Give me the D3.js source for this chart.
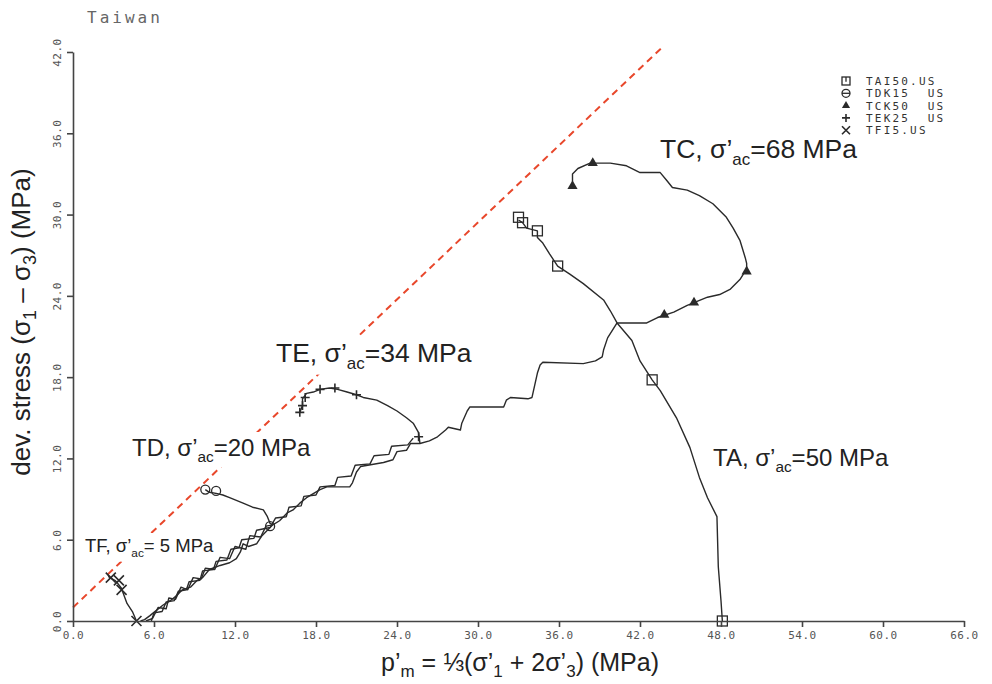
<!DOCTYPE html>
<html><head><meta charset="utf-8">
<script src="https://cdn.jsdelivr.net/npm/d3@7"></script>
<style>body{margin:0;background:#fff;} svg{display:block;}</style>
</head><body>
<svg id="chart" width="992" height="684"></svg>
<script>
// ---------- data ----------
const xTicks = [0, 6, 12, 18, 24, 30, 36, 42, 48, 54, 60, 66];
const yTicks = [0, 6, 12, 18, 24, 30, 36, 42];
const legendNames = ["TAI50.US", "TDK15  US", "TCK50  US", "TEK25  US", "TFI5.US"];
const legendSymbols = ["squareBar", "circleBar", "triangle", "plus", "cross"];
const titleText = "Taiwan";

// failure / reference line (p, q)
const refLine = [[0, 1.0], [43.7, 42.4]];

// common loading path (staircase)
const trunkMain = [[5.0,0.0],[5.3,0.1],[5.7,0.4],[6.2,0.8],[6.7,1.2],[7.2,1.5],[7.7,1.9],[8.1,2.3],[8.7,2.5],[9.2,3.0],[9.6,3.2],[10.1,3.8],[10.9,4.1],[11.6,4.3],[12.1,4.6],[12.4,5.1],[12.6,5.7],[13.0,5.5],[13.6,5.7],[14.0,6.3],[14.4,6.7],[14.8,7.1],[15.3,7.4],[15.9,8.0],[16.3,8.2],[16.8,8.7],[17.3,9.1],[18.3,9.7],[18.8,9.9],[20.5,9.9],[20.7,10.2],[21.0,11.0],[21.3,11.4],[23.0,11.7],[23.7,11.9],[24.0,12.5],[24.7,12.6],[25.0,13.1],[25.7,13.1],[26.4,13.3],[27.0,13.6],[27.6,14.1],[27.8,14.3],[28.7,14.1],[28.8,14.6],[29.2,15.5],[29.4,15.8],[31.9,15.8],[32.1,16.3],[32.4,16.5],[33.7,16.4],[34.0,16.5],[34.4,18.3],[34.6,18.9],[34.8,19.1],[37.8,19.0],[38.7,19.2],[39.2,19.5],[39.3,20.0],[39.6,20.9],[40.3,22.0]];
const trunkB = [[5.8,0.0],[6.0,0.6],[6.6,0.7],[6.9,1.4],[7.5,1.5],[7.8,2.2],[8.4,2.3],[8.6,2.9],[9.4,3.0],[9.6,3.7],[10.4,3.8],[10.6,4.4],[11.4,4.5],[11.7,5.3],[12.3,5.4],[12.5,6.0],[13.4,6.1],[13.6,6.7],[14.6,6.9],[15.0,7.6],[15.8,7.7],[16.0,8.4],[16.9,8.5],[17.1,9.2],[18.0,9.3],[18.3,9.9],[19.4,10.0],[19.6,10.6],[20.6,10.7],[20.9,11.5],[22.0,11.6],[22.3,12.2],[23.4,12.3],[23.6,12.9],[24.8,13.0],[25.2,13.5]];
const trunkC = [[5.4,0.0],[5.9,0.2],[6.3,1.0],[6.9,0.9],[7.1,1.7],[7.6,1.6],[8.0,2.5],[8.5,2.3],[8.9,3.2],[9.5,3.1],[9.8,3.9],[10.5,3.8],[10.9,4.7],[11.6,4.6],[12.0,5.5],[12.8,5.3],[13.1,6.3],[13.9,6.2],[14.3,7.0],[14.8,7.1]];

// individual test paths
const taPath = [[48.1,0.0],[48.0,1.5],[47.8,4.0],[47.7,7.7],[47.0,9.1],[46.4,10.6],[45.7,12.8],[44.7,15.0],[43.5,17.0],[42.9,17.8],[42.0,19.2],[41.4,20.7],[40.3,22.0],[39.8,22.9],[39.3,23.7],[37.8,24.9],[36.8,25.6],[35.9,26.2],[35.3,27.1],[34.8,27.9],[34.4,28.3],[34.4,28.8],[33.6,29.0],[33.3,29.4],[33.0,29.6]];
const tcPath = [[40.3,22.0],[42.5,22.0],[43.3,22.4],[44.5,22.8],[45.5,23.3],[47.0,23.9],[47.9,24.1],[48.7,24.5],[49.4,25.2],[49.9,26.0],[49.9,26.4],[49.8,26.8],[49.4,28.1],[48.9,29.0],[48.4,29.8],[47.4,30.8],[46.4,31.4],[45.5,31.8],[44.4,32.0],[44.0,32.5],[43.5,33.1],[42.0,33.1],[41.0,33.6],[39.8,33.8],[38.3,33.8],[37.4,33.4],[37.0,33.0],[37.0,32.1]];
const tdPath = [[14.8,7.1],[14.6,7.2],[14.4,7.7],[14.1,8.2],[13.3,8.4],[12.6,8.7],[11.6,9.1],[11.1,9.3],[10.7,9.4],[10.1,9.5],[9.8,9.7]];
const tePath = [[25.7,13.1],[25.6,13.9],[25.2,14.6],[24.7,15.0],[24.0,15.5],[23.3,15.9],[22.5,16.3],[21.5,16.5],[21.0,16.7],[20.3,16.9],[19.6,17.1],[19.0,17.2],[18.3,17.1],[17.8,16.9],[17.3,16.8],[17.0,16.4],[17.0,15.9],[16.8,15.4]];
const tfPath = [[4.7,0.0],[4.4,0.7],[4.0,1.3],[3.7,2.1],[3.6,2.4],[3.3,2.8],[3.1,3.0],[2.7,3.2],[2.6,3.4]];

// markers on paths
const taMarks = [[48.1,0.0],[42.9,17.8],[35.9,26.2],[34.4,28.8],[33.3,29.4],[33.0,29.8]];
const tcMarks = [[37.0,32.1],[38.5,33.8],[49.9,25.8],[46.0,23.5],[43.8,22.6]];
const tdMarks = [[9.8,9.7],[10.6,9.6],[14.6,7.0]];
const teMarks = [[16.8,15.4],[17.0,15.9],[17.2,16.5],[18.3,17.1],[19.4,17.2],[21.0,16.7],[25.6,13.6]];
const tfMarks = [[4.7,0.0],[3.6,2.3],[2.8,3.2],[3.4,3.0]];

const testLabels = [
  {name:"TC", sig:"68", x:660, y:158, size:26.5},
  {name:"TE", sig:"34", x:276, y:362, size:26.5},
  {name:"TD", sig:"20", x:132, y:456, size:24},
  {name:"TA", sig:"50", x:713, y:466, size:24},
  {name:"TF", sig:" 5", x:85,  y:552, size:18.5}
];

// ---------- drawing ----------
const svg = d3.select("#chart");
const x = d3.scaleLinear().domain([0, 66]).range([73, 964]);
const y = d3.scaleLinear().domain([0, 42]).range([621, 52]);
const ink = "#2a2a2a";
const mono = "'DejaVu Sans Mono', 'Liberation Mono', monospace";
const sans = "Arial, 'Liberation Sans', sans-serif";

// layers
const gRef = svg.append("g");
const gBg = svg.append("g");
const gPaths = svg.append("g");
const gMarks = svg.append("g");
const gText = svg.append("g");

// title
gText.append("text").attr("x", 87).attr("y", 23).text(titleText)
  .attr("font-family", mono).attr("font-size", 16).attr("fill", "#666").attr("letter-spacing", 3);

// axes
const xAxis = gText.append("g").attr("transform", `translate(0,${y(0)})`)
  .call(d3.axisBottom(x).tickValues(xTicks).tickFormat(d3.format(".1f")).tickSize(6).tickSizeOuter(0));
const yAxis = gText.append("g").attr("transform", `translate(${x(0)},0)`)
  .call(d3.axisLeft(y).tickValues(yTicks).tickFormat(d3.format(".1f")).tickSize(6).tickSizeOuter(0));
[xAxis, yAxis].forEach(g => {
  g.select(".domain").attr("stroke", "#444").attr("stroke-width", 1.6);
  g.selectAll(".tick line").attr("stroke", "#444").attr("stroke-width", 1.6);
  g.selectAll("text").attr("font-family", mono).attr("font-size", 11).attr("fill", "#555")
    .attr("letter-spacing", 0.5);
});
xAxis.selectAll("text").attr("dy", "0.71em").attr("y", 10);
yAxis.selectAll("text").attr("transform", "rotate(-90)").attr("x", 0).attr("y", -12)
  .attr("dy", 0).attr("text-anchor", "middle");

// reference dashed line
const line = d3.line().x(d => x(d[0])).y(d => y(d[1]));
gRef.append("path").datum(refLine).attr("d", line).attr("fill", "none")
  .attr("stroke", "#e8472b").attr("stroke-width", 2).attr("stroke-dasharray", "7,5");

// paths
const paths = [trunkMain, trunkB, trunkC, taPath, tcPath, tdPath, tePath, tfPath];
gPaths.selectAll("path").data(paths).join("path")
  .attr("d", line).attr("fill", "none").attr("stroke", ink).attr("stroke-width", 1.4)
  .attr("stroke-linejoin", "round");

// markers
function drawSymbol(g, kind, size) {
  const s = size;
  if (kind === "square" || kind === "squareBar") {
    g.append("rect").attr("x", -s/2).attr("y", -s/2).attr("width", s).attr("height", s)
      .attr("fill", "none").attr("stroke", ink).attr("stroke-width", 1.3);
    if (kind === "squareBar") g.append("line").attr("x1", 0).attr("x2", 0).attr("y1", -s/2).attr("y2", s*0.1)
      .attr("stroke", ink).attr("stroke-width", 1.3);
  } else if (kind === "circle" || kind === "circleBar") {
    g.append("circle").attr("r", s/2).attr("fill", "none").attr("stroke", ink).attr("stroke-width", 1.3);
    if (kind === "circleBar") g.append("line").attr("x1", -s/2).attr("x2", s/2).attr("y1", 0).attr("y2", 0)
      .attr("stroke", ink).attr("stroke-width", 1.3);
  } else if (kind === "triangle") {
    g.append("path").attr("d", d3.symbol(d3.symbolTriangle, s*s*0.45)()).attr("fill", ink);
  } else if (kind === "plus") {
    g.append("path").attr("d", `M${-s/2},0H${s/2}M0,${-s/2}V${s/2}`).attr("stroke", ink).attr("stroke-width", 1.6);
  } else if (kind === "cross") {
    g.append("path").attr("d", `M${-s/2},${-s/2}L${s/2},${s/2}M${-s/2},${s/2}L${s/2},${-s/2}`)
      .attr("stroke", ink).attr("stroke-width", 1.6);
  }
}
const markSets = [[taMarks, "square", 10], [tcMarks, "triangle", 10], [tdMarks, "circle", 9], [teMarks, "plus", 9], [tfMarks, "cross", 10]];
markSets.forEach(([pts, kind, size]) => {
  pts.forEach(p => {
    const g = gMarks.append("g").attr("transform", `translate(${x(p[0])},${y(p[1])})`);
    drawSymbol(g, kind, size);
  });
});

// legend
const leg = gText.append("g").attr("transform", "translate(846,81)");
legendNames.forEach((n, i) => {
  const g = leg.append("g").attr("transform", `translate(0,${i * 12.3})`);
  drawSymbol(g, legendSymbols[i], 8);
  g.append("text").attr("x", 20).attr("y", 4).text(n).style("white-space", "pre")
    .attr("font-family", mono).attr("font-size", 11).attr("letter-spacing", 2.2).attr("fill", "#333");
});

// test labels (white background under the text masks the dashed line only)
testLabels.forEach(l => {
  const t = gText.append("text").attr("x", l.x).attr("y", l.y)
    .attr("font-family", sans).attr("font-size", l.size).attr("fill", "#222")
    .style("white-space", "pre");
  t.append("tspan").text(`${l.name}, σ’`);
  t.append("tspan").text("ac").attr("font-size", l.size * 0.64).attr("dy", l.size * 0.25);
  t.append("tspan").text(`=${l.sig} MPa`).attr("dy", -l.size * 0.25);
  const b = t.node().getBBox();
  gBg.append("rect").attr("fill", "#fff")
    .attr("x", b.x - 2).attr("y", b.y - 2).attr("width", b.width + 4).attr("height", b.height + 4);
});

// axis titles
const xl = gText.append("text").attr("x", 520).attr("y", 671).attr("text-anchor", "middle")
  .attr("font-family", sans).attr("font-size", 25).attr("fill", "#222");
xl.append("tspan").text("p’");
xl.append("tspan").text("m").attr("font-size", 17).attr("dy", 6);
xl.append("tspan").text(" = ⅓(σ’").attr("dy", -6);
xl.append("tspan").text("1").attr("font-size", 17).attr("dy", 6);
xl.append("tspan").text(" + 2σ’").attr("dy", -6);
xl.append("tspan").text("3").attr("font-size", 17).attr("dy", 6);
xl.append("tspan").text(") (MPa)").attr("dy", -6);

const yl = gText.append("text").attr("transform", "translate(30,322) rotate(-90)").attr("text-anchor", "middle")
  .attr("font-family", sans).attr("font-size", 26).attr("fill", "#222");
yl.append("tspan").text("dev. stress (σ");
yl.append("tspan").text("1").attr("font-size", 18).attr("dy", 6);
yl.append("tspan").text(" – σ").attr("dy", -6);
yl.append("tspan").text("3").attr("font-size", 18).attr("dy", 6);
yl.append("tspan").text(") (MPa)").attr("dy", -6);
</script>
</body></html>
